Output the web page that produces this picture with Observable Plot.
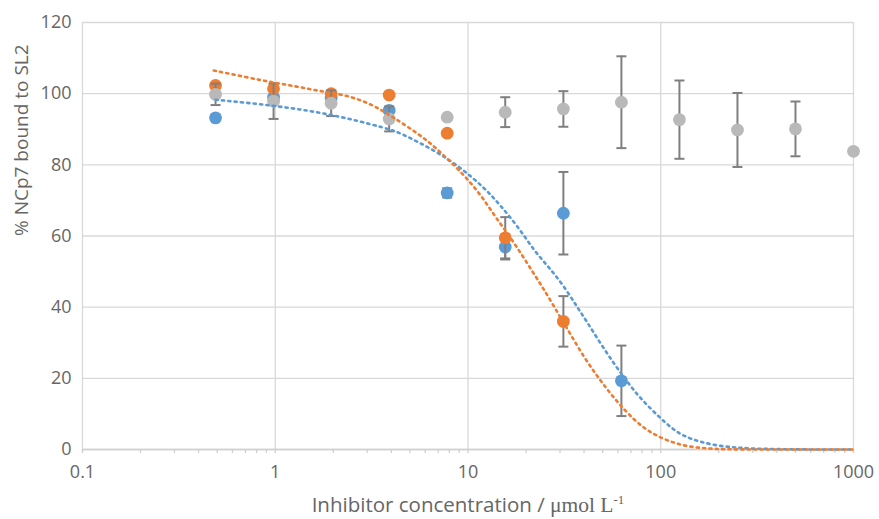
<!DOCTYPE html>
<html>
<head>
<meta charset="utf-8">
<script src="https://cdn.jsdelivr.net/npm/d3@7"></script>
<script src="https://cdn.jsdelivr.net/npm/@observablehq/plot@0.6"></script>
<style>
  html, body { margin: 0; padding: 0; background: #fff; }
  #chart { width: 879px; height: 519px; }
</style>
</head>
<body>
<div id="chart"></div>
<script>
// ---- data ----
const conc = [0.49, 0.98, 1.95, 3.9, 7.8, 15.6, 31.25, 62.5, 125, 250, 500, 1000];

const grayMean = [99.8, 97.9, 97.3, 92.9, 93.4, 94.8, 95.7, 97.6, 92.7, 89.8, 90.1, 83.8];
const grayErr  = [3.0, 5.0, 3.6, 3.5, 0.6, 4.2, 5.0, 12.9, 11.0, 10.4, 7.7, 0];

const blueConc = [0.49, 0.98, 1.95, 3.9, 7.8, 15.6, 31.25, 62.5];
const blueMean = [93.2, 99.0, 98.8, 95.3, 72.1, 56.9, 66.4, 19.3];
const blueErr  = [0, 0, 0, 0, 1.3, 3.5, 11.6, 9.9];

const orangeConc = [0.49, 0.98, 1.95, 3.9, 7.8, 15.6, 31.25];
const orangeMean = [102.3, 101.4, 100.0, 99.6, 88.9, 59.5, 36.0];
const orangeErr  = [0, 0, 0, 0, 0, 5.8, 7.1];

// fitted curves
const blueFitX = [0.49, 0.98, 1.95, 3.9, 4.47, 6.65, 9.07, 12.08, 14.75, 18.35, 21.95, 26.2, 31.2, 36.6, 41.5, 48.7, 57.1, 67.0, 78.5, 97.7, 114.5, 131.7, 160.7, 204, 259, 316, 500, 1000];
const blueFitY = [98.3, 96.7, 94.3, 90.1, 88.9, 84.2, 79.4, 73.7, 68.6, 62.3, 56.0, 51.3, 46.2, 40.3, 35.8, 29.8, 24.2, 19.0, 14.3, 9.2, 5.9, 3.7, 2.1, 0.9, 0.45, 0.2, 0, 0];
const orangeFitX = [0.48, 0.713, 0.96, 1.296, 1.71, 2.08, 2.54, 3.24, 3.94, 4.47, 5.45, 6.52, 7.64, 8.96, 10.5, 12.08, 13.9, 16.3, 19.1, 21.95, 24.3, 27.4, 30.8, 34.7, 39.9, 45.9, 52.3, 60.6, 74, 92, 117, 142.7, 174, 212, 300, 1000];
const orangeFitY = [106.5, 104.6, 103.2, 102.0, 100.7, 100.0, 99.0, 96.7, 93.9, 92.0, 88.9, 85.7, 82.2, 78.6, 74.5, 70.3, 65.3, 60.2, 54.6, 49.4, 45.7, 41.0, 36.3, 31.6, 26.0, 21.3, 17.1, 12.9, 7.8, 4.1, 1.8, 0.7, 0.3, 0.05, 0, 0];

const xMajor = [0.1, 1, 10, 100, 1000];
const xMajorLabels = ["0.1", "1", "10", "100", "1000"];
const xMinor = [0.2,0.3,0.4,0.5,0.6,0.7,0.8,0.9, 2,3,4,5,6,7,8,9, 20,30,40,50,60,70,80,90, 200,300,400,500,600,700,800,900];
const yTicks = [0, 20, 40, 60, 80, 100, 120];

const yTitle = "% NCp7 bound to SL2";
const xTitleA = "Inhibitor concentration / ";
const xTitleB = "μmol L";
const xTitleSup = "-1";

// ---- build tables ----
const mk = (xs, ms, es) => xs.map((x, i) => ({x, y: ms[i], lo: ms[i] - es[i], hi: ms[i] + es[i], e: es[i]}));
const gray = mk(conc, grayMean, grayErr);
const blue = mk(blueConc, blueMean, blueErr);
const orange = mk(orangeConc, orangeMean, orangeErr);
const blueFit = blueFitX.map((x, i) => ({x, y: blueFitY[i]}));
const orangeFit = orangeFitX.map((x, i) => ({x, y: orangeFitY[i]}));

const cap = { draw(ctx, size) { const r = Math.sqrt(size / Math.PI); ctx.moveTo(-r, 0); ctx.lineTo(r, 0); } };

const C_BLUE = "#5B9BD5", C_ORANGE = "#ED7D31", C_GRAY = "#B9B9B9", C_ERR = "#7F7F7F";
const TXT = "#666666";
const FONT = "Open Sans";

function errMarks(data) {
  const d = data.filter(r => r.e > 0);
  return [
    Plot.ruleX(d, {x: "x", y1: "lo", y2: "hi", stroke: C_ERR, strokeWidth: 2}),
    Plot.dot(d, {x: "x", y: "lo", symbol: cap, r: 5, stroke: C_ERR, strokeWidth: 2, fill: "none"}),
    Plot.dot(d, {x: "x", y: "hi", symbol: cap, r: 5, stroke: C_ERR, strokeWidth: 2, fill: "none"})
  ];
}

const plot = Plot.plot({
  width: 879,
  height: 519,
  marginLeft: 82,
  marginRight: 26,
  marginTop: 22,
  marginBottom: 70,
  style: {fontFamily: FONT, background: "#fff", overflow: "visible"},
  x: {type: "log", domain: [0.1, 1000]},
  y: {domain: [0, 120]},
  marks: [
    Plot.gridY(yTicks, {stroke: "#D9D9D9", strokeOpacity: 1, strokeWidth: 1.3}),
    Plot.gridX(xMajor, {stroke: "#D9D9D9", strokeOpacity: 1, strokeWidth: 1.3}),
    Plot.ruleY([0], {stroke: "#CFCFCF", strokeWidth: 1.5}),
    Plot.axisX(xMajor.concat(xMinor), {tickSize: 4, stroke: "#CFCFCF", strokeWidth: 1.3, tickFormat: () => "", label: null}),
    Plot.axisX(xMajor, {tickSize: 0, tickPadding: 16, tickFormat: (d) => xMajorLabels[xMajor.indexOf(d)], fontSize: 18, fill: TXT, label: null}),
    Plot.axisY(yTicks, {tickSize: 0, tickPadding: 11, fontSize: 18, fill: TXT, label: null}),
    ...errMarks(blue),
    Plot.dot(blue, {x: "x", y: "y", r: 6.4, fill: C_BLUE}),
    ...errMarks(orange),
    Plot.dot(orange, {x: "x", y: "y", r: 6.4, fill: C_ORANGE}),
    ...errMarks(gray),
    Plot.dot(gray, {x: "x", y: "y", r: 6.4, fill: C_GRAY}),
    Plot.line(blueFit, {x: "x", y: "y", stroke: C_BLUE, strokeWidth: 2.6, strokeDasharray: "2.2,4.2", curve: "basis"}),
    Plot.line(orangeFit, {x: "x", y: "y", stroke: C_ORANGE, strokeWidth: 2.6, strokeDasharray: "2.2,4.2", curve: "basis"}),
    Plot.text([yTitle], {frameAnchor: "left", dx: -61, rotate: -90, fontSize: 19, fill: TXT})
  ]
});

// x-axis title with mixed fonts and superscript
const svg = d3.select(plot);
const t = svg.append("text")
  .attr("x", 468).attr("y", 512)
  .attr("text-anchor", "middle")
  .attr("fill", TXT)
  .attr("font-size", 20.5)
  .attr("font-family", FONT);
t.append("tspan").text(xTitleA);
t.append("tspan").attr("font-family", "Liberation Serif").attr("font-size", 21.5).text(xTitleB);
t.append("tspan").attr("font-family", "Liberation Serif").attr("font-size", 13).attr("dy", -8).text(xTitleSup);

document.getElementById("chart").appendChild(plot);
</script>
</body>
</html>
